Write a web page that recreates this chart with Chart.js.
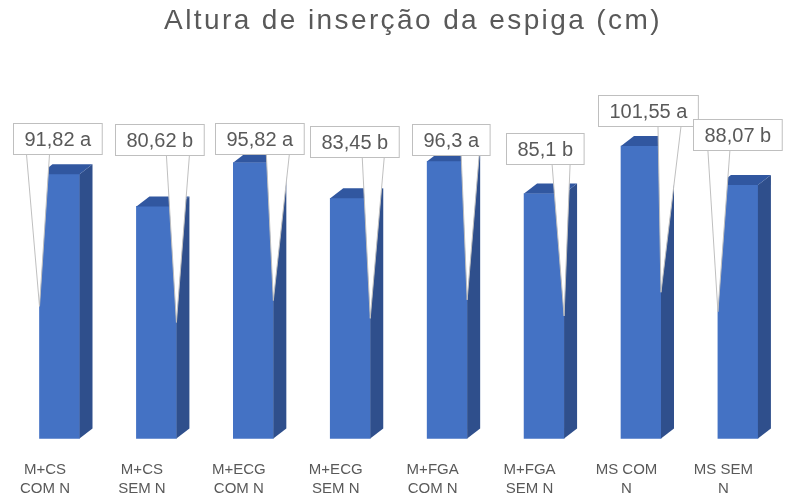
<!DOCTYPE html>
<html>
<head>
<meta charset="utf-8">
<script src="https://cdn.jsdelivr.net/npm/chart.js@4.4.1/dist/chart.umd.min.js"></script>
<style>
    html, body { margin: 0; padding: 0; background: #fff; }
    #chart { display: block; }
</style>
</head>
<body>
<canvas id="chart" width="789" height="499"></canvas>
<script>
const chartTitle = 'Altura de inserção da espiga (cm)';
const categories = [
    ['M+CS', 'COM N'], ['M+CS', 'SEM N'], ['M+ECG', 'COM N'], ['M+ECG', 'SEM N'],
    ['M+FGA', 'COM N'], ['M+FGA', 'SEM N'], ['MS COM', 'N'], ['MS SEM', 'N']
];
const heights = [91.82, 80.62, 95.82, 83.45, 96.3, 85.1, 101.55, 88.07];
const groups = ['a', 'b', 'a', 'b', 'a', 'b', 'a', 'b'];

const fontFamily = '"Liberation Sans", Arial, sans-serif';
const textColor = '#595959';

// where each value box sits and which edge of the bar its pointer hits
const calloutLayout = [
    {dx: -2, top: 123, side: 'left', base: [-13, 10]},
    {dx: 2.5, top: 124, side: 'right', base: [-10, 13]},
    {dx: 6.5, top: 123, side: 'right', base: [-7, 16]},
    {dx: 4.5, top: 126, side: 'right', base: [-8, 14]},
    {dx: 3.5, top: 124, side: 'right', base: [-6, 12]},
    {dx: 1, top: 133, side: 'right', base: [-12, 6]},
    {dx: 7, top: 95, side: 'right', base: [-3, 20]},
    {dx: -1, top: 119, side: 'left', base: [-10, 12]}
];

function formatValue(v, letter) {
    return String(v).replace('.', ',') + ' ' + letter;
}

const titlePlugin = {
    id: 'spacedTitle',
    afterDraw(chart) {
        const ctx = chart.ctx;
        ctx.save();
        ctx.font = '28px ' + fontFamily;
        ctx.letterSpacing = '2.4px';
        ctx.fillStyle = textColor;
        ctx.textAlign = 'center';
        ctx.textBaseline = 'alphabetic';
        ctx.fillText(chartTitle, 413, 29);
        ctx.restore();
    }
};

// side and top faces give the bars their depth
const depthPlugin = {
    id: 'barDepth',
    afterDatasetsDraw(chart) {
        const ctx = chart.ctx;
        const dx = 13, dy = -10;
        ctx.save();
        chart.getDatasetMeta(0).data.forEach(bar => {
            const x0 = bar.x - bar.width / 2;
            const x1 = bar.x + bar.width / 2;
            const top = bar.y, base = bar.base;
            ctx.fillStyle = '#2F4F8C';
            ctx.beginPath();
            ctx.moveTo(x1, top);
            ctx.lineTo(x1 + dx, top + dy);
            ctx.lineTo(x1 + dx, base + dy);
            ctx.lineTo(x1, base);
            ctx.closePath();
            ctx.fill();
            ctx.fillStyle = '#3157A0';
            ctx.beginPath();
            ctx.moveTo(x0, top);
            ctx.lineTo(x0 + dx, top + dy);
            ctx.lineTo(x1 + dx, top + dy);
            ctx.lineTo(x1, top);
            ctx.closePath();
            ctx.fill();
        });
        ctx.restore();
    }
};

const calloutPlugin = {
    id: 'callouts',
    afterDraw(chart) {
        const ctx = chart.ctx;
        const boxH = 31, padX = 11;
        ctx.save();
        ctx.font = '20px ' + fontFamily;
        ctx.lineWidth = 1;
        chart.getDatasetMeta(0).data.forEach((bar, i) => {
            const layout = calloutLayout[i];
            const text = formatValue(heights[i], groups[i]);
            const w = ctx.measureText(text).width + padX * 2;
            const cx = bar.x + layout.dx;
            const left = Math.round(cx - w / 2) + 0.5;
            const top = layout.top + 0.5;
            const tipX = layout.side === 'left' ? bar.x - bar.width / 2 : bar.x + bar.width / 2;
            const tipY = (bar.y + bar.base) / 2;

            ctx.fillStyle = '#ffffff';
            ctx.strokeStyle = '#BFBFBF';
            ctx.beginPath();
            ctx.moveTo(tipX + layout.base[0], top + boxH);
            ctx.lineTo(tipX, tipY);
            ctx.lineTo(tipX + layout.base[1], top + boxH);
            ctx.fill();
            ctx.stroke();

            ctx.fillRect(left, top, w, boxH);
            ctx.strokeRect(left, top, w, boxH);
            ctx.fillStyle = textColor;
            ctx.textAlign = 'center';
            ctx.textBaseline = 'middle';
            ctx.fillText(text, left + w / 2, top + boxH / 2 + 1);
        });
        ctx.restore();
    }
};

new Chart(document.getElementById('chart'), {
    type: 'bar',
    data: {
        labels: categories,
        datasets: [{
            data: heights,
            backgroundColor: '#4472C4',
            borderWidth: 0,
            barThickness: 40,
            clip: false
        }]
    },
    options: {
        responsive: false,
        animation: false,
        layout: {
            padding: {top: 93, left: 59.5, right: 41, bottom: 0}
        },
        plugins: {
            legend: {display: false},
            title: {display: false},
            tooltip: {enabled: false}
        },
        scales: {
            x: {
                offset: false,
                grid: {display: false, drawTicks: false},
                border: {display: false},
                afterFit: scale => { scale.height = 60.5; },
                ticks: {
                    color: textColor,
                    padding: 21.5,
                    labelOffset: -14.5,
                    maxRotation: 0,
                    autoSkip: false,
                    font: {family: fontFamily, size: 15, lineHeight: 1.3}
                }
            },
            y: {
                display: false,
                min: 0,
                max: 120
            }
        }
    },
    plugins: [depthPlugin, calloutPlugin, titlePlugin]
});
</script>
</body>
</html>
